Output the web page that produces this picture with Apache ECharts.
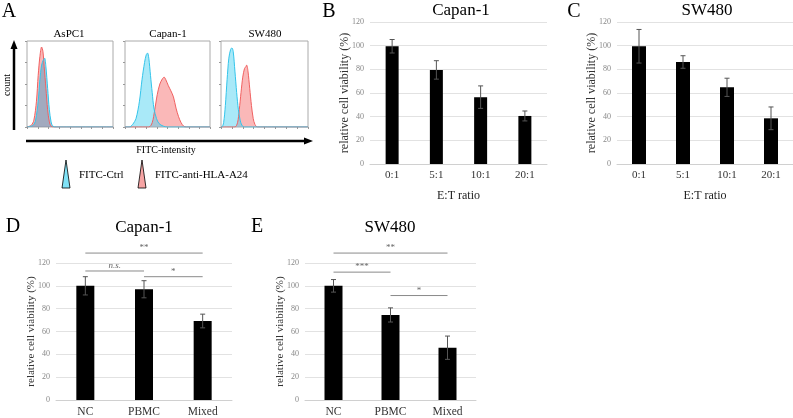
<!DOCTYPE html>
<html lang="en">
<head>
    <meta charset="UTF-8">
    <title>cell viability figure</title>
    <script src="https://cdn.jsdelivr.net/npm/echarts@6/dist/echarts.min.js"></script>
    <style>
        html, body { margin: 0; padding: 0; background: #fff; }
        #main { width: 793px; height: 418px; }
    </style>
</head>
<body>
<div id="main"></div>
<script>
    // ---- data ----
    // histograms (x = % of the FITC axis, y = fraction of box height)
    var asRed  = [[0,0],[5,0.02],[8,0.08],[11,0.3],[13,0.6],[15,0.82],[17,0.93],[18.5,0.88],[20,0.7],[22,0.45],[24,0.2],[26,0.06],[28,0.01],[32,0],[100,0]];
    var asBlue = [[0,0],[7,0.02],[10,0.08],[13,0.3],[15,0.55],[17,0.72],[19,0.78],[20.5,0.8],[22,0.7],[24,0.45],[26,0.2],[28,0.06],[30,0.01],[34,0],[100,0]];
    var caRed  = [[0,0],[28,0],[32,0.05],[35,0.2],[38,0.38],[41,0.5],[44,0.56],[46,0.58],[48,0.55],[51,0.48],[54,0.42],[57,0.35],[60,0.22],[63,0.12],[66,0.05],[69,0.01],[72,0],[100,0]];
    var caBlue = [[0,0],[5,0],[9,0.03],[13,0.1],[17,0.3],[20,0.55],[23,0.75],[25,0.84],[26.5,0.86],[28,0.8],[30,0.6],[32,0.4],[34,0.22],[37,0.1],[40,0.04],[45,0.01],[50,0],[100,0]];
    var swRed  = [[0,0],[16,0],[19,0.05],[21,0.2],[23,0.4],[25,0.58],[27,0.68],[28.5,0.7],[29.5,0.72],[31,0.65],[33,0.45],[35,0.25],[37,0.1],[39,0.03],[42,0],[100,0]];
    var swBlue = [[0,0],[1,0],[3,0.05],[5,0.25],[7,0.55],[9,0.8],[11,0.9],[12.5,0.92],[14,0.88],[16,0.65],[18,0.4],[20,0.2],[22,0.08],[24,0.02],[27,0],[100,0]];

    // E:T ratio panels
    var etCats = ['0:1', '5:1', '10:1', '20:1'];
    var bMean = [99.5, 79.5, 56.5, 40.6];
    var bErr  = [5.7, 7.8, 9.5, 4.2];
    var cMean = [99.5, 86.2, 64.8, 38.6];
    var cErr  = [14.2, 5.3, 7.7, 9.6];

    // NC / PBMC / Mixed panels
    var grpCats = ['NC', 'PBMC', 'Mixed'];
    var dMean = [100, 97, 69.2];
    var dErr  = [8, 7.5, 6];
    var eMean = [100, 74.5, 45.8];
    var eErr  = [5.5, 6.2, 10.2];

    // significance brackets: [from index, to index, y value]
    var dSig = [[0, 1.95, 128.7], [0, 0.9, 113], [1.05, 1.95, 108]];
    var dSigText = ['**', 'n.s.', '*'];
    var eSig = [[0.04, 2, 128.7], [0.04, 0.96, 112], [1.1, 2, 91.5]];
    var eSigText = ['**', '***', '*'];

    var serif = 'Liberation Serif';
    var chart = echarts.init(document.getElementById('main'));

    var grids = [
        {left: 27, top: 41, width: 86, height: 86, show: true, borderColor: '#aaa', borderWidth: 1},
        {left: 125, top: 41, width: 85, height: 86, show: true, borderColor: '#aaa', borderWidth: 1},
        {left: 221, top: 41, width: 87, height: 86, show: true, borderColor: '#aaa', borderWidth: 1},
        {left: 370, top: 22, width: 177, height: 142},
        {left: 617, top: 22, width: 176, height: 142},
        {left: 56, top: 263, width: 176, height: 139},
        {left: 305, top: 263, width: 171, height: 139}
    ];

    var xAxes = [], yAxes = [];
    for (var i = 0; i < 3; i++) {
        xAxes.push({
            gridIndex: i, type: 'value', min: 0, max: 100, interval: 12.5,
            axisLine: {show: false}, axisLabel: {show: false},
            axisTick: {show: true, length: 2, lineStyle: {color: '#999'}},
            splitLine: {show: false}
        });
        yAxes.push({
            gridIndex: i, type: 'value', min: 0, max: 1, interval: 0.25,
            axisLine: {show: false}, axisLabel: {show: false},
            axisTick: {show: true, length: 2, lineStyle: {color: '#999'}},
            splitLine: {show: false}
        });
    }

    function barAxes(gi, cats, catSize, nameText, ySize, yGap) {
        xAxes.push({
            gridIndex: gi, type: 'category', data: cats,
            axisLine: {lineStyle: {color: '#d0d0d0'}},
            axisTick: {show: false},
            axisLabel: {fontFamily: serif, fontSize: catSize, color: '#333', margin: 6},
            name: nameText, nameLocation: 'middle', nameGap: 26,
            nameTextStyle: {fontFamily: serif, fontSize: 12, color: '#222'}
        });
        yAxes.push({
            gridIndex: gi, type: 'value', min: 0, max: 120, interval: 20,
            axisLine: {show: false}, axisTick: {show: false},
            axisLabel: {fontFamily: serif, fontSize: 8, color: '#888', margin: 6},
            splitLine: {lineStyle: {color: '#e2e2e2'}},
            name: 'relative cell viability (%)', nameLocation: 'middle', nameGap: yGap,
            nameMoveOverlap: false,
            nameTextStyle: {fontFamily: serif, fontSize: ySize, color: '#333'}
        });
    }
    barAxes(3, etCats, 11, 'E:T ratio', 12, 19);
    barAxes(4, etCats, 11, 'E:T ratio', 12, 19);
    barAxes(5, grpCats, 11.5, '', 11, 19);
    barAxes(6, grpCats, 11.5, '', 11, 19);

    var series = [];

    function hist(gi, data, line, fill) {
        series.push({
            type: 'line', xAxisIndex: gi, yAxisIndex: gi, data: data,
            smooth: 0.3, showSymbol: false, symbol: 'none',
            lineStyle: {color: line, width: 1},
            areaStyle: {color: fill}
        });
    }
    hist(0, asRed, '#f06060', 'rgba(245,120,120,0.75)');
    hist(0, asBlue, '#33c4ea', 'rgba(40,150,200,0.6)');
    hist(1, caRed, '#f06060', 'rgba(245,120,120,0.75)');
    hist(1, caBlue, '#33c4ea', 'rgba(80,210,240,0.7)');
    hist(2, swRed, '#f06060', 'rgba(245,120,120,0.75)');
    hist(2, swBlue, '#33c4ea', 'rgba(80,210,240,0.7)');

    function errorBars(gi, mean, err) {
        var d = mean.map(function (m, k) { return [k, m - err[k], m + err[k]]; });
        series.push({
            type: 'custom', xAxisIndex: gi, yAxisIndex: gi, data: d, z: 5,
            renderItem: function (params, api) {
                var lo = api.coord([api.value(0), api.value(1)]);
                var hi = api.coord([api.value(0), api.value(2)]);
                var cap = 2.5;
                var st = {stroke: '#555', lineWidth: 1};
                return {
                    type: 'group', children: [
                        {type: 'line', shape: {x1: hi[0], y1: hi[1], x2: lo[0], y2: lo[1]}, style: st},
                        {type: 'line', shape: {x1: hi[0] - cap, y1: hi[1], x2: hi[0] + cap, y2: hi[1]}, style: st},
                        {type: 'line', shape: {x1: lo[0] - cap, y1: lo[1], x2: lo[0] + cap, y2: lo[1]}, style: st}
                    ]
                };
            }
        });
    }

    // brackets drawn with a custom series so they can sit above the 120 line
    function brackets(gi, sig, labels) {
        series.push({
            type: 'custom', xAxisIndex: gi, yAxisIndex: gi, data: sig, clip: false, z: 6,
            renderItem: function (params, api) {
                var a = api.coord([api.value(0), api.value(2)]);
                var b = api.coord([api.value(1), api.value(2)]);
                var t = labels[params.dataIndex];
                return {
                    type: 'group', children: [
                        {type: 'line', shape: {x1: a[0], y1: a[1], x2: b[0], y2: b[1]},
                            style: {stroke: '#8a8a8a', lineWidth: 1}},
                        {type: 'text', x: (a[0] + b[0]) / 2, y: a[1] - 5,
                            style: {text: t, fontFamily: serif, fontSize: 9, fill: '#666',
                                fontStyle: t === 'n.s.' ? 'italic' : 'normal',
                                align: 'center', verticalAlign: 'middle'}}
                    ]
                };
            }
        });
    }

    function bars(gi, mean, err, width) {
        series.push({
            type: 'bar', xAxisIndex: gi, yAxisIndex: gi, data: mean,
            barWidth: width, itemStyle: {color: '#000'}
        });
        errorBars(gi, mean, err);
    }
    bars(3, bMean, bErr, 13);
    bars(4, cMean, cErr, 14);
    bars(5, dMean, dErr, 18);
    bars(6, eMean, eErr, 18);
    brackets(5, dSig, dSigText);
    brackets(6, eSig, eSigText);

    function txt(x, y, s, size, extra) {
        var o = {type: 'text', x: x, y: y, style: {text: s, fontFamily: serif, fontSize: size, fill: '#000',
            align: 'center', verticalAlign: 'middle'}};
        if (extra) { for (var k in extra) o.style[k] = extra[k]; }
        return o;
    }

    var graphic = [
        // panel letters
        txt(9, 12, 'A', 20), txt(329, 12, 'B', 20), txt(574, 12, 'C', 20),
        txt(13, 227, 'D', 20), txt(257, 227, 'E', 20),
        // titles
        txt(461, 11, 'Capan-1', 17), txt(707, 11, 'SW480', 17),
        txt(144, 228, 'Capan-1', 17), txt(390, 228, 'SW480', 17),
        txt(69, 34, 'AsPC1', 11), txt(168, 34, 'Capan-1', 11), txt(265, 34, 'SW480', 11),
        txt(166, 150, 'FITC-intensity', 10),
        {type: 'text', x: 7, y: 85, rotation: Math.PI / 2,
            style: {text: 'count', fontFamily: serif, fontSize: 10, fill: '#000', align: 'center', verticalAlign: 'middle'}},
        // count arrow
        {type: 'line', shape: {x1: 14, y1: 130, x2: 14, y2: 47}, style: {stroke: '#000', lineWidth: 2.5}},
        {type: 'polygon', shape: {points: [[14, 40], [10.5, 49], [17.5, 49]]}, style: {fill: '#000'}},
        // intensity arrow
        {type: 'line', shape: {x1: 26, y1: 141, x2: 305, y2: 141}, style: {stroke: '#000', lineWidth: 2.5}},
        {type: 'polygon', shape: {points: [[313, 141], [304, 137.5], [304, 144.5]]}, style: {fill: '#000'}},
        // legend
        {type: 'polygon', shape: {points: [[66, 160], [62, 188], [70, 188]]}, style: {fill: '#80e2f6', stroke: '#000', lineWidth: 0.8}},
        {type: 'polygon', shape: {points: [[142, 160], [138, 188], [146, 188]]}, style: {fill: '#f7a5a5', stroke: '#000', lineWidth: 0.8}},
        txt(79, 175, 'FITC-Ctrl', 11, {align: 'left'}),
        txt(155, 175, 'FITC-anti-HLA-A24', 11, {align: 'left'})
    ];

    chart.setOption({
        animation: false,
        backgroundColor: '#fff',
        grid: grids,
        xAxis: xAxes,
        yAxis: yAxes,
        series: series,
        graphic: graphic
    });
</script>
</body>
</html>
